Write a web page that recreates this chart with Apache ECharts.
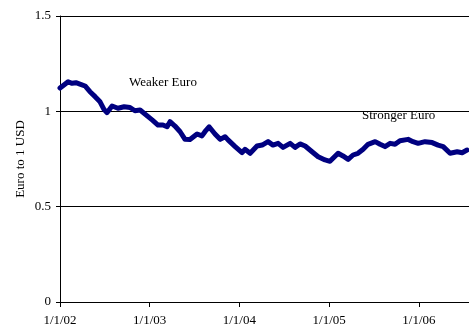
<!DOCTYPE html>
<html>
<head>
<meta charset="utf-8">
<script src="https://cdn.jsdelivr.net/npm/echarts@6/dist/echarts.min.js"></script>
<style>
html,body{margin:0;padding:0;background:#fff;}
#chart{width:469px;height:328px;}
</style>
</head>
<body>
<div id="chart"></div>
<script>
const dates = [
'2002-01-01','2002-01-17','2002-02-03','2002-02-19','2002-03-07','2002-03-23','2002-04-13','2002-05-03','2002-05-24','2002-06-13',
'2002-06-29','2002-07-11','2002-08-01','2002-08-25','2002-09-19','2002-10-13','2002-11-02','2002-11-23','2002-12-17','2003-01-11',
'2003-02-04','2003-02-24','2003-03-13','2003-03-25','2003-04-14','2003-05-05','2003-05-25','2003-06-14','2003-07-13','2003-08-02',
'2003-08-14','2003-08-31','2003-09-24','2003-10-15','2003-11-04','2003-11-16','2003-12-15','2004-01-12','2004-01-24','2004-02-14',
'2004-03-13','2004-04-03','2004-04-27','2004-05-17','2004-06-07','2004-06-27','2004-07-26','2004-08-15','2004-09-04','2004-09-25',
'2004-10-23','2004-11-17','2004-12-15','2005-01-04','2005-02-06','2005-02-26','2005-03-19','2005-04-08','2005-04-28','2005-05-19',
'2005-06-08','2005-07-07','2005-07-27','2005-08-16','2005-09-06','2005-09-26','2005-10-16','2005-11-18','2005-12-08','2005-12-29',
'2006-01-26','2006-02-24','2006-03-20','2006-04-10','2006-05-08','2006-06-06','2006-06-26','2006-07-16'
];
const euroPerUsd = [
1.122,1.138,1.155,1.147,1.150,1.143,1.133,1.103,1.077,1.050,
1.010,0.993,1.028,1.016,1.024,1.020,1.003,1.007,0.981,0.955,
0.928,0.928,0.919,0.946,0.923,0.893,0.853,0.852,0.881,0.871,
0.893,0.919,0.881,0.853,0.867,0.850,0.815,0.783,0.801,0.780,
0.818,0.823,0.841,0.823,0.832,0.811,0.832,0.811,0.829,0.818,
0.788,0.762,0.745,0.738,0.780,0.766,0.748,0.771,0.780,0.801,
0.827,0.841,0.827,0.815,0.832,0.827,0.846,0.853,0.841,0.832,
0.841,0.836,0.823,0.815,0.780,0.788,0.783,0.797
];
const yTicks = [0, 0.5, 1, 1.5];
const xStart = '2002-01-01';
const xEnd = '2006-07-24';
const annotations = ['Weaker Euro', 'Stronger Euro'];
const yName = 'Euro to 1 USD';

const font = '"Liberation Serif","Times New Roman",serif';
const chart = echarts.init(document.getElementById('chart'), null, {renderer:'canvas'});
const YEAR = 365 * 24 * 3600 * 1000;
chart.setOption({
  animation: false,
  backgroundColor: '#fff',
  grid: {left: 60, top: 16, right: 0, bottom: 26, containLabel: false},
  xAxis: {
    type: 'time',
    min: xStart,
    max: xEnd,
    minInterval: YEAR,
    maxInterval: YEAR + 2*24*3600*1000,
    axisLine: {show: true, lineStyle: {color: '#000', width: 1}},
    axisTick: {show: true, inside: false, length: 5, lineStyle: {color: '#000'}},
    axisLabel: {
      color: '#000', fontFamily: font, fontSize: 13, margin: 12,
      showMinLabel: true, showMaxLabel: false, hideOverlap: false,
      formatter: function (v) {
        const d = new Date(v);
        return (d.getMonth() + 1) + '/' + d.getDate() + '/' + String(d.getFullYear()).slice(2);
      }
    },
    splitLine: {show: false},
    minorTick: {show: false}
  },
  yAxis: {
    type: 'value',
    min: yTicks[0],
    max: yTicks[yTicks.length - 1],
    interval: 0.5,
    name: yName,
    nameLocation: 'middle',
    nameGap: 33,
    nameMoveOverlap: false,
    nameRotate: 90,
    nameTextStyle: {color: '#000', fontFamily: font, fontSize: 13},
    axisLine: {show: true, lineStyle: {color: '#000', width: 1}},
    axisTick: {show: true, inside: false, length: 4, lineStyle: {color: '#000'}},
    axisLabel: {color: '#000', fontFamily: font, fontSize: 13, margin: 9,
      formatter: function (v) { return String(v); }},
    splitLine: {show: true, lineStyle: {color: '#000', width: 1}}
  },
  series: [{
    type: 'line',
    data: dates.map((d, i) => [d, euroPerUsd[i]]),
    showSymbol: false,
    symbol: 'none',
    lineStyle: {color: '#000080', width: 5, join: 'round', cap: 'round'},
    z: 5
  }],
  graphic: [
    {type: 'text', left: 129, top: 76, style: {text: annotations[0], fill: '#000', font: '13px ' + font}},
    {type: 'text', left: 362, top: 109, style: {text: annotations[1], fill: '#000', font: '13px ' + font}}
  ]
});
</script>
</body>
</html>
